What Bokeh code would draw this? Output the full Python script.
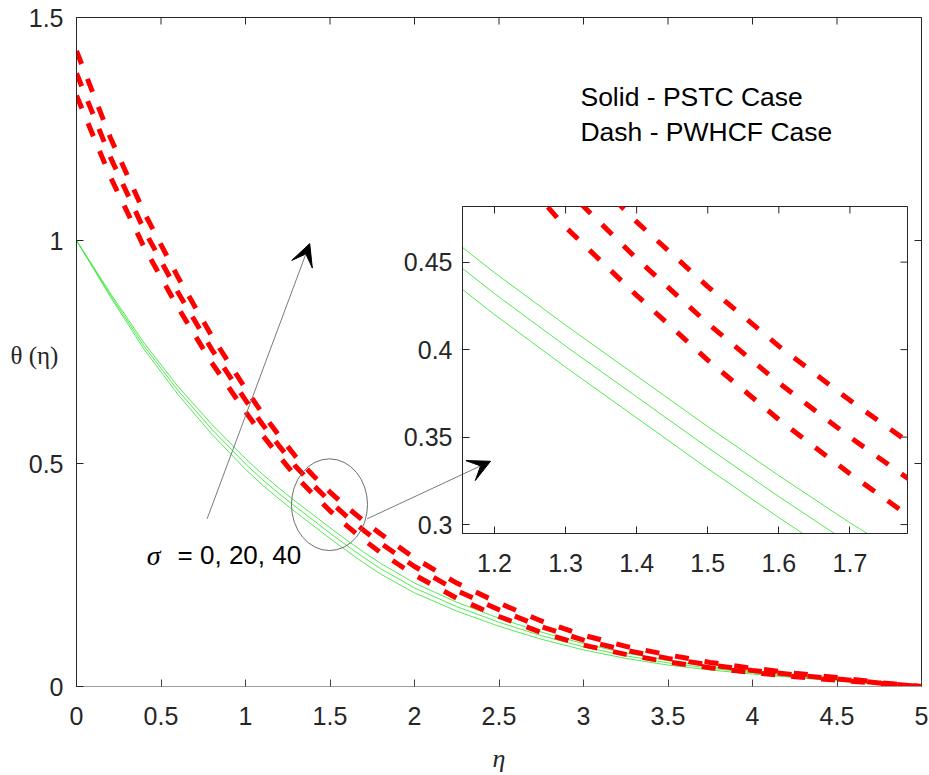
import math
from bokeh.plotting import figure
from bokeh.models import (Range1d, FixedTicker, CustomJSTickFormatter, Label, Arrow, VeeHead)
from bokeh.layouts import column
from bokeh.embed import file_html
from bokeh.resources import INLINE

# ---------------- data ----------------
eta = [0.0, 0.2, 0.4, 0.6, 0.8, 1.0, 1.1, 1.2, 1.3, 1.4, 1.5, 1.6, 1.7, 1.8,
       2.0, 2.25, 2.5, 2.75, 3.0, 3.25, 3.5, 3.75, 4.0, 4.25, 4.5, 4.75, 5.0]

# Solid - PSTC case (sigma = 0, 20, 40)
pstc_sigma0 = [1.0, 0.874, 0.756, 0.655, 0.566, 0.487, 0.452, 0.420, 0.390, 0.361, 0.332,
               0.304, 0.277, 0.252, 0.210, 0.169, 0.135, 0.106, 0.082, 0.063, 0.048,
               0.037, 0.028, 0.020, 0.0125, 0.006, 0.0]
pstc_sigma20 = [1.0, 0.878, 0.763, 0.664, 0.577, 0.499, 0.464, 0.432, 0.402, 0.373, 0.344,
                0.316, 0.289, 0.264, 0.221, 0.179, 0.144, 0.114, 0.089, 0.069, 0.053,
                0.041, 0.031, 0.022, 0.014, 0.007, 0.0]
pstc_sigma40 = [1.0, 0.882, 0.770, 0.673, 0.588, 0.511, 0.476, 0.444, 0.414, 0.385, 0.356,
                0.328, 0.301, 0.276, 0.232, 0.189, 0.153, 0.122, 0.096, 0.075, 0.058,
                0.045, 0.034, 0.024, 0.0155, 0.008, 0.0]

# Dash - PWHCF case (sigma = 0, 20, 40)
pwhcf_sigma0 = [1.325, 1.143, 0.985, 0.850, 0.726, 0.616, 0.564, 0.516, 0.470, 0.431, 0.394,
                0.360, 0.329, 0.300, 0.250, 0.198, 0.157, 0.121, 0.093, 0.072, 0.055,
                0.042, 0.031, 0.022, 0.014, 0.007, 0.0]
pwhcf_sigma20 = [1.375, 1.187, 1.024, 0.884, 0.756, 0.642, 0.588, 0.539, 0.492, 0.452, 0.415,
                 0.381, 0.350, 0.321, 0.269, 0.215, 0.172, 0.134, 0.104, 0.081, 0.063,
                 0.048, 0.036, 0.026, 0.017, 0.008, 0.0]
pwhcf_sigma40 = [1.425, 1.231, 1.063, 0.918, 0.786, 0.668, 0.612, 0.562, 0.514, 0.473, 0.436,
                 0.402, 0.371, 0.342, 0.288, 0.232, 0.187, 0.147, 0.115, 0.090, 0.071,
                 0.054, 0.041, 0.030, 0.020, 0.009, 0.0]

main_x_ticks = [0, 0.5, 1, 1.5, 2, 2.5, 3, 3.5, 4, 4.5, 5]
main_y_ticks = [0, 0.5, 1, 1.5]
inset_x_ticks = [1.2, 1.3, 1.4, 1.5, 1.6, 1.7]
inset_y_ticks = [0.3, 0.35, 0.4, 0.45]

# ---------------- styling ----------------
GREEN = "#3ee83e"
RED = "#ff0000"
AXC = "#262626"
TICK_FONT = "Liberation Sans"
TICK_SIZE = "25px"
fmt_code = "return Number(tick.toFixed(3)).toString();"

W, H = 929, 775


def style_axis(ax, ticks, standoff, line_color=AXC, tick_color=AXC):
    ax.ticker = FixedTicker(ticks=ticks, minor_ticks=[])
    ax.formatter = CustomJSTickFormatter(code=fmt_code)
    ax.major_tick_in = 7
    ax.major_tick_out = 0
    ax.minor_tick_in = 0
    ax.minor_tick_out = 0
    ax.axis_line_color = line_color
    ax.axis_line_width = 1
    ax.major_tick_line_color = tick_color
    ax.major_tick_line_width = 1
    ax.major_label_text_font = TICK_FONT
    ax.major_label_text_font_size = TICK_SIZE
    ax.major_label_text_color = AXC
    ax.major_label_standoff = standoff


def mirror_ticks(fig, xticks, yticks, xmax, ymax):
    # inward tick marks on the top and right frame edges (outer half is clipped)
    fig.scatter(x=xticks, y=[ymax] * len(xticks), marker="dash", size=14,
                angle=math.pi / 2, line_color=AXC, line_width=1)
    fig.scatter(x=[xmax] * len(yticks), y=yticks, marker="dash", size=14,
                angle=0, line_color=AXC, line_width=1)


def draw_curves(fig):
    for ys in (pstc_sigma0, pstc_sigma20, pstc_sigma40):
        fig.line(eta, ys, line_color=GREEN, line_width=0.9)
    for ys in (pwhcf_sigma0, pwhcf_sigma20, pwhcf_sigma40):
        fig.line(eta, ys, line_color=RED, line_width=5, line_dash="14 16",
                 line_cap="butt")


# ---------------- main figure ----------------
p = figure(frame_width=845, frame_height=669,
           min_border_left=76, min_border_right=8, min_border_top=17, min_border_bottom=89,
           x_range=Range1d(0, 5), y_range=Range1d(0, 1.5), frame_align=False,
           output_backend="svg", toolbar_location=None)
p.outline_line_color = AXC
p.outline_line_width = 1
p.grid.visible = False
p.background_fill_color = "white"
p.border_fill_color = "white"

style_axis(p.xaxis[0], main_x_ticks, 20, line_color="#9e9e9e", tick_color="#404040")
style_axis(p.yaxis[0], main_y_ticks, 13)
p.xaxis[0].axis_label = "η"
p.xaxis[0].axis_label_text_font = "Liberation Serif"
p.xaxis[0].axis_label_text_font_style = "italic"
p.xaxis[0].axis_label_text_font_size = "26px"
p.xaxis[0].axis_label_text_color = AXC
p.xaxis[0].axis_label_standoff = 16
mirror_ticks(p, main_x_ticks, main_y_ticks, 5, 1.5)

draw_curves(p)

# annotation ellipse + arrows
p.ellipse(x=[1.497], y=[0.4076], width=0.45, height=0.2056,
          fill_color=None, line_color="#6e6e6e", line_width=1)
p.add_layout(Arrow(end=VeeHead(size=22, fill_color="black", line_color="black"),
                   x_start=0.773, y_start=0.376, x_end=1.38, y_end=0.993,
                   line_color="#7a7a7a", line_width=1))
p.add_layout(Arrow(end=VeeHead(size=22, fill_color="black", line_color="black"),
                   x_start=1.72, y_start=0.376, x_end=2.45, y_end=0.505,
                   line_color="#7a7a7a", line_width=1))

p.add_layout(Label(x=0.415, y=0.294, text="σ", text_font="Liberation Serif",
                   text_font_style="italic", text_font_size="28px", text_color="black",
                   text_baseline="alphabetic"))
p.add_layout(Label(x=0.598, y=0.294, text="= 0, 20, 40", text_font="Liberation Sans",
                   text_font_size="26px", text_color="black", text_baseline="alphabetic"))
p.add_layout(Label(x=2.982, y=1.321, text="Solid - PSTC Case", text_font="Liberation Sans",
                   text_font_size="26.5px", text_color="black", text_baseline="alphabetic"))
p.add_layout(Label(x=2.982, y=1.243, text="Dash - PWHCF Case", text_font="Liberation Sans",
                   text_font_size="26.5px", text_color="black", text_baseline="alphabetic"))

# ---------------- y-title overlay (page pixel coordinates) ----------------
ann = figure(width=W, height=H, min_border=0, x_range=Range1d(0, W), y_range=Range1d(H, 0),
             x_axis_type=None, y_axis_type=None, frame_align=False,
             output_backend="svg", toolbar_location=None)
ann.outline_line_color = None
ann.grid.visible = False
ann.background_fill_alpha = 0
ann.border_fill_alpha = 0
ann.add_layout(Label(x=10, y=355, text="θ (η)", text_font="Liberation Serif",
                     text_font_size="25px", text_baseline="middle", text_align="left",
                     text_color=AXC))
ann.margin = (-H, 0, 0, 0)

# ---------------- inset figure ----------------
INS_L, INS_T, INS_B = 100, 10, 60
INS_FW, INS_FH = 445, 327
ins = figure(frame_width=INS_FW, frame_height=INS_FH,
             min_border_left=INS_L, min_border_right=10, min_border_top=INS_T,
             min_border_bottom=INS_B, frame_align=False,
             x_range=Range1d(1.155, 1.781), y_range=Range1d(0.2949, 0.4818),
             output_backend="svg", toolbar_location=None)
ins.outline_line_color = AXC
ins.outline_line_width = 1
ins.grid.visible = False
ins.background_fill_alpha = 0
ins.border_fill_alpha = 0

style_axis(ins.xaxis[0], inset_x_ticks, 20)
style_axis(ins.yaxis[0], inset_y_ticks, 10)
mirror_ticks(ins, inset_x_ticks, inset_y_ticks, 1.781, 0.4818)

draw_curves(ins)

ins_top = 206 - INS_T
ins_h = INS_T + INS_FH + INS_B
ins.margin = (ins_top - H, 0, H - (ins_top + ins_h), 462 - INS_L)

layout = column(p, ann, ins)
open("out.html", "w").write(file_html(layout, INLINE))
